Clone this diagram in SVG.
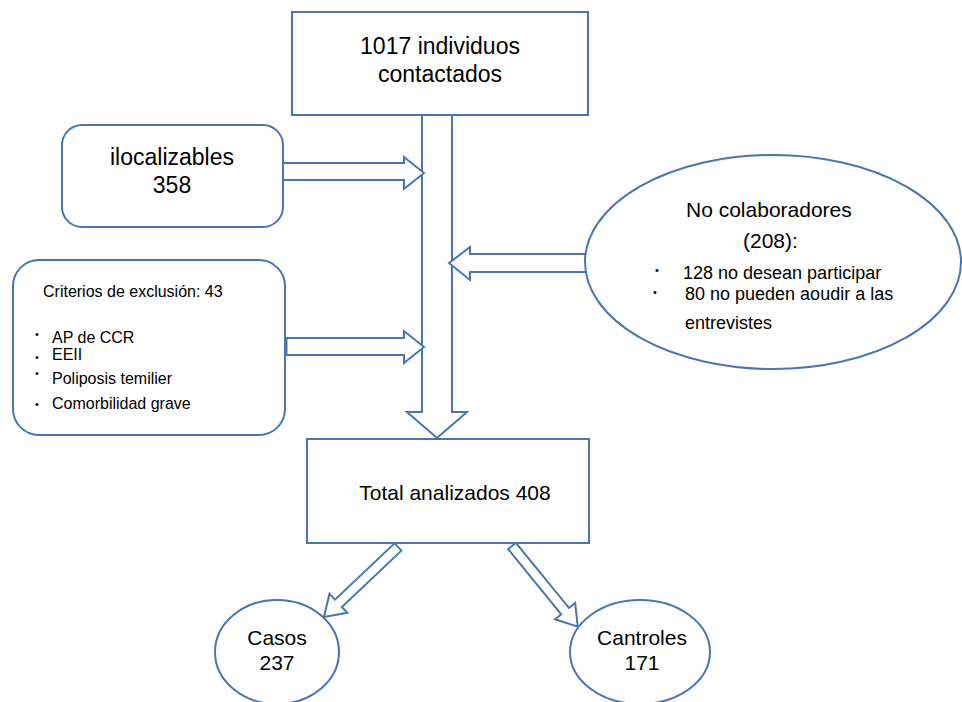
<svg xmlns="http://www.w3.org/2000/svg" width="962" height="702" viewBox="0 0 962 702">
<style>
.box{fill:#fff;stroke:#4a76ad;stroke-width:2}
.arr{fill:#fff;stroke:#4a76ad;stroke-width:2;stroke-linejoin:miter}
text{font-family:"Liberation Sans",Arial,sans-serif;fill:#000}
.t23{font-size:23px}
.t21{font-size:21px}
.t18{font-size:18px}
.t16{font-size:16px}
.bul{font-size:11px}
</style>
<rect width="962" height="702" fill="#fff"/>
<g id="connectors">
<polygon class="arr" points="422,115 452,115 452,412 467,412 437,438 407,412 422,412"/>
<polygon class="arr" points="283,163 404,163 404,157 424,173 404,189 404,180 283,180"/>
<polygon class="arr" points="285,338 404,338 404,331 424,347 404,363 404,355 285,355"/>
<line x1="286" y1="338" x2="286" y2="355" stroke="#4a76ad" stroke-width="3"/>
<polygon class="arr" points="590,254 470,254 470,247 449,263 470,280 470,272 590,272"/>
<polygon class="arr" transform="translate(398,547) rotate(136.6)" points="0,-5 82,-5 82,-13 102,0 82,13 82,5 0,5"/>
<polygon class="arr" transform="translate(512,546) rotate(50.8)" points="0,-5 84,-5 84,-13 104,0 84,13 84,5 0,5"/>
</g>
<g id="contactados">
<rect class="box" x="292" y="12" width="296" height="103"/>
<text class="t23" x="440" y="54" text-anchor="middle">1017 individuos</text>
<text class="t23" x="440" y="82" text-anchor="middle">contactados</text>
</g>
<g id="ilocalizables">
<rect class="box" x="62" y="125" width="221" height="102" rx="20" ry="20"/>
<text class="t23" x="172" y="165" text-anchor="middle">ilocalizables</text>
<text class="t23" x="172" y="193" text-anchor="middle">358</text>
</g>
<g id="criterios">
<rect class="box" x="13" y="260" width="272" height="175" rx="26" ry="26"/>
<text class="t16" x="43" y="297">Criterios de exclusión: 43</text>
<text class="bul" x="35" y="338">•</text>
<text class="t16" x="52" y="343">AP de CCR</text>
<text class="bul" x="35" y="361">•</text>
<text class="t16" x="52" y="360">EEII</text>
<text class="bul" x="35" y="377">•</text>
<text class="t16" x="52" y="384">Poliposis temilier</text>
<text class="bul" x="35" y="408">•</text>
<text class="t16" x="52" y="409">Comorbilidad grave</text>
</g>
<g id="nocolaboradores">
<ellipse class="box" cx="773" cy="262" rx="188" ry="107"/>
<text class="t21" x="686" y="217">No colaboradores</text>
<text class="t21" x="743" y="248">(208):</text>
<text class="bul" x="655" y="274">•</text>
<text class="t18" x="683" y="279">128 no desean participar</text>
<text class="bul" x="653" y="296">•</text>
<text class="t18" x="685" y="300">80 no pueden aoudir a las</text>
<text class="t18" x="685" y="329">entrevistes</text>
</g>
<g id="total">
<rect class="box" x="307" y="439" width="282" height="104"/>
<text class="t21" x="455" y="500" text-anchor="middle">Total analizados 408</text>
</g>
<g id="casos">
<ellipse class="box" cx="277" cy="652" rx="62" ry="52"/>
<text class="t21" x="277" y="645" text-anchor="middle">Casos</text>
<text class="t21" x="277" y="670" text-anchor="middle">237</text>
</g>
<g id="cantroles">
<ellipse class="box" cx="640" cy="652" rx="70" ry="52"/>
<text class="t21" x="642" y="645" text-anchor="middle">Cantroles</text>
<text class="t21" x="642" y="670" text-anchor="middle">171</text>
</g>
</svg>
